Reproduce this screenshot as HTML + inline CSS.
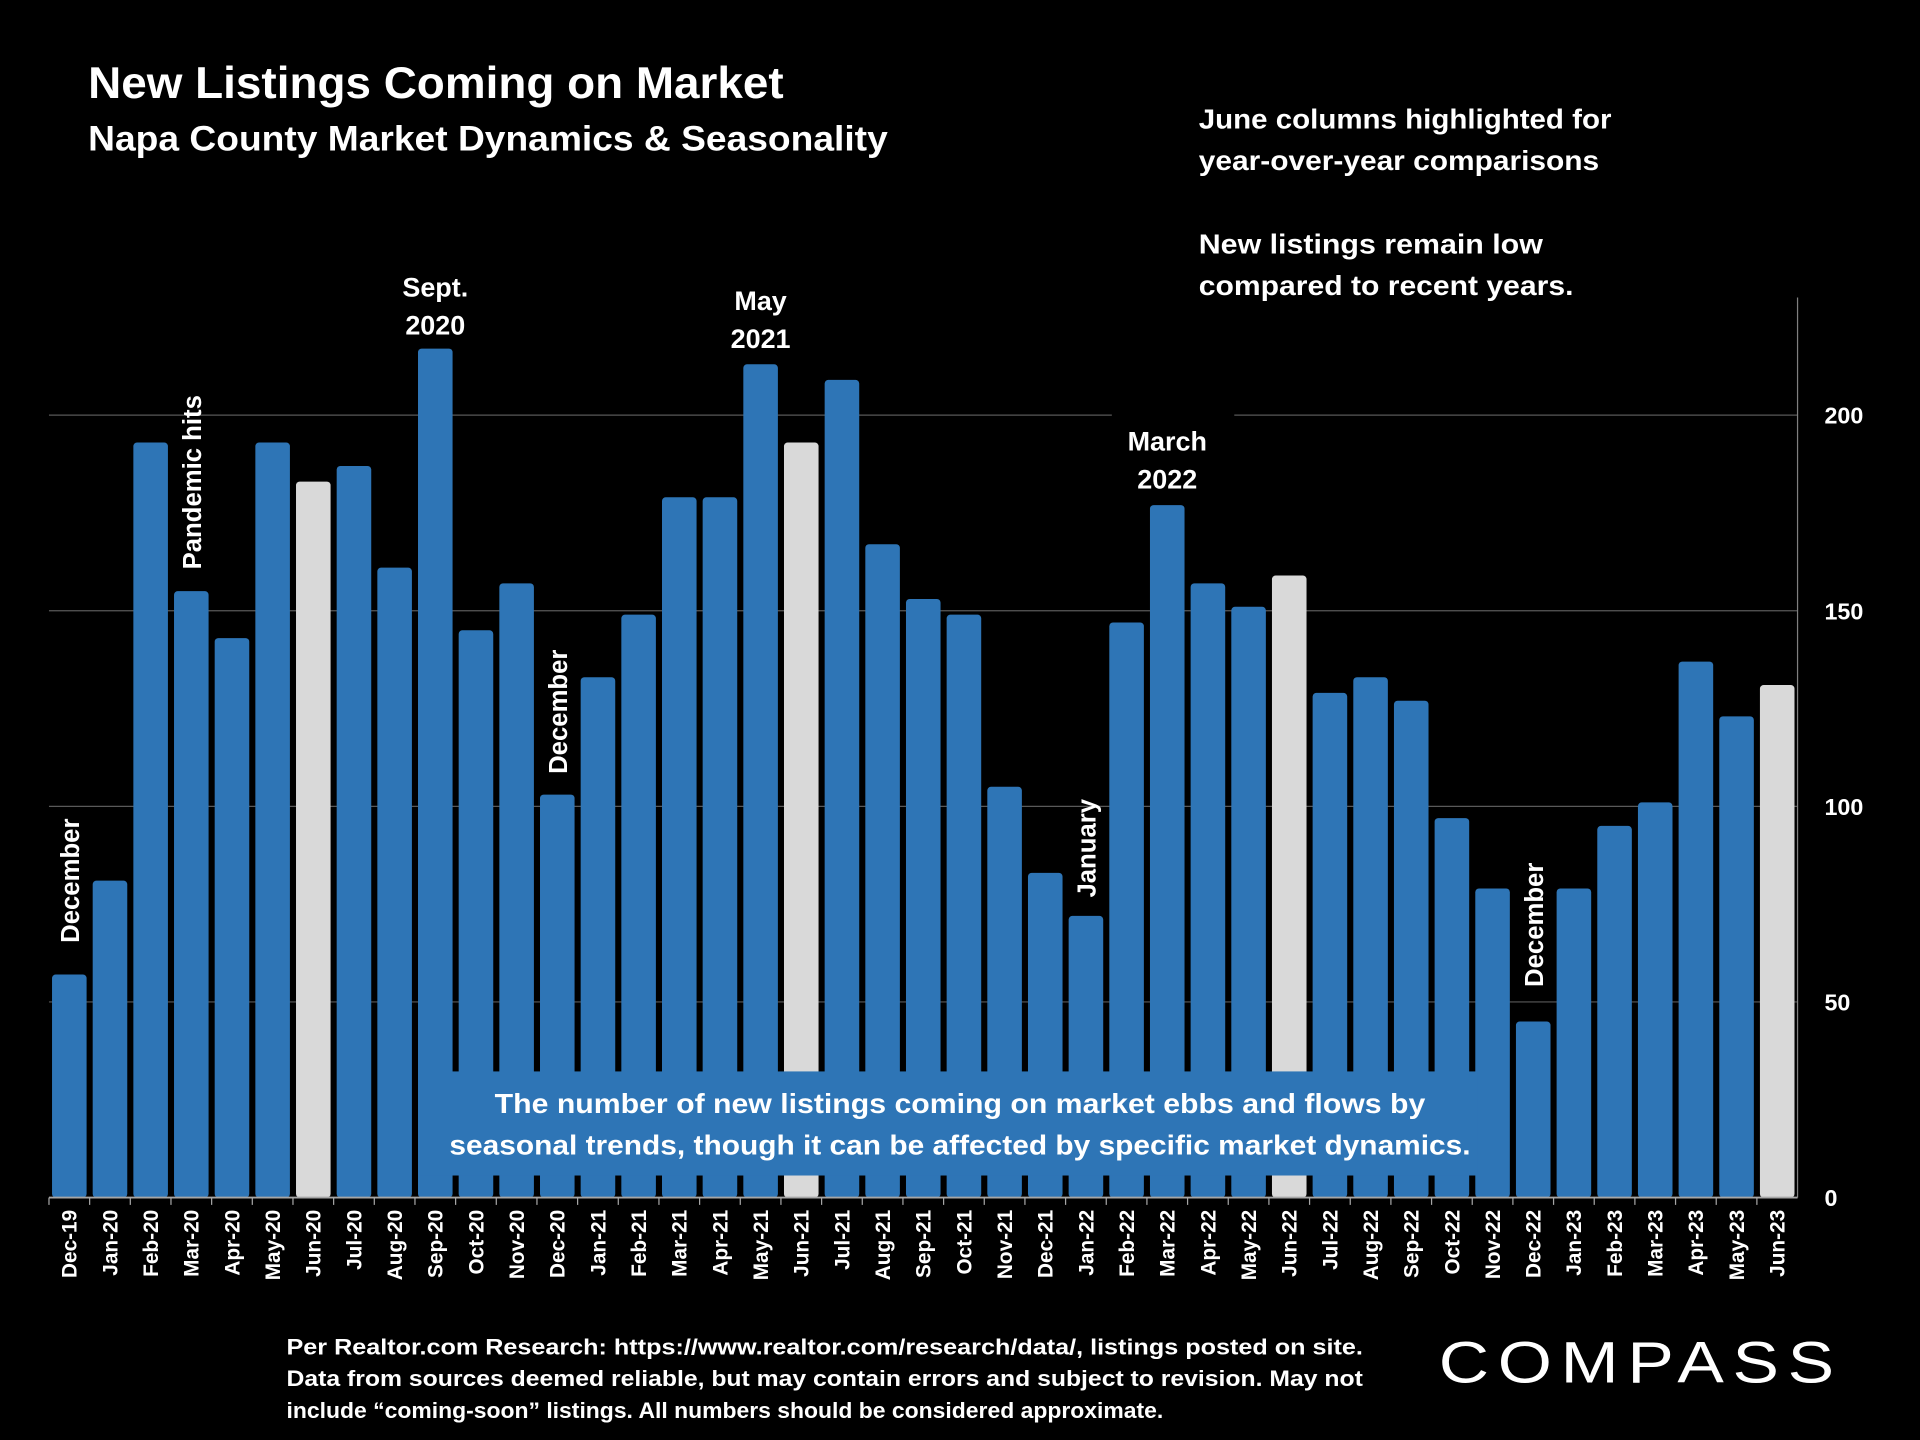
<!DOCTYPE html>
<html><head><meta charset="utf-8"><title>New Listings Coming on Market</title>
<style>html,body{margin:0;padding:0;background:#000;}svg{display:block;font-family:"Liberation Sans",sans-serif;font-weight:bold;}</style>
</head><body>
<svg id="chart" width="1920" height="1440" viewBox="0 0 1568 1176" xmlns="http://www.w3.org/2000/svg">
<rect width="1568" height="1176" fill="#000"/>
<text x="72" y="80" fill="#fff" font-size="36" textLength="568" lengthAdjust="spacingAndGlyphs">New Listings Coming on Market</text>
<text x="72" y="123" fill="#fff" font-size="29" textLength="653" lengthAdjust="spacingAndGlyphs">Napa County Market Dynamics &amp; Seasonality</text>
<g fill="#fff" font-size="23">
<text x="979" y="105" textLength="337" lengthAdjust="spacingAndGlyphs">June columns highlighted for</text>
<text x="979" y="139" textLength="327" lengthAdjust="spacingAndGlyphs">year-over-year comparisons</text>
<text x="979" y="207" textLength="281" lengthAdjust="spacingAndGlyphs">New listings remain low</text>
<text x="979" y="241" textLength="306" lengthAdjust="spacingAndGlyphs">compared to recent years.</text>
</g>
<g id="grid"></g>
<g id="bars"></g>
<g id="axes"></g>
<g id="ann" fill="#fff" font-size="22"></g>
<rect x="343" y="875" width="864" height="85" fill="#2e75b6"/>
<g fill="#fff" font-size="23" text-anchor="middle">
<text x="784" y="909" textLength="760" lengthAdjust="spacingAndGlyphs">The number of new listings coming on market ebbs and flows by</text>
<text x="784" y="943" textLength="834" lengthAdjust="spacingAndGlyphs">seasonal trends, though it can be affected by specific market dynamics.</text>
</g>
<g fill="#fff" font-size="18">
<text x="234" y="1106" textLength="879" lengthAdjust="spacingAndGlyphs">Per Realtor.com Research:  https://www.realtor.com/research/data/, listings posted on site.</text>
<text x="234" y="1132" textLength="879" lengthAdjust="spacingAndGlyphs">Data from sources deemed reliable, but may contain errors and subject to revision. May not</text>
<text x="234" y="1158" textLength="716" lengthAdjust="spacingAndGlyphs">include “coming-soon” listings. All numbers should be considered approximate.</text>
</g>
<text x="1340" y="1129" fill="#fff" font-size="48" font-weight="normal" text-anchor="middle" letter-spacing="6" textLength="330" lengthAdjust="spacingAndGlyphs">COMPASS</text>
<script>
const categories=["Dec-19","Jan-20","Feb-20","Mar-20","Apr-20","May-20","Jun-20","Jul-20","Aug-20","Sep-20","Oct-20","Nov-20","Dec-20","Jan-21","Feb-21","Mar-21","Apr-21","May-21","Jun-21","Jul-21","Aug-21","Sep-21","Oct-21","Nov-21","Dec-21","Jan-22","Feb-22","Mar-22","Apr-22","May-22","Jun-22","Jul-22","Aug-22","Sep-22","Oct-22","Nov-22","Dec-22","Jan-23","Feb-23","Mar-23","Apr-23","May-23","Jun-23"];
const listings=[57,81,193,155,143,193,183,187,161,217,145,157,103,133,149,179,179,213,193,209,167,153,149,105,83,72,147,177,157,151,159,129,133,127,97,79,45,79,95,101,137,123,131];
const yTicks=[0,50,100,150,200];
const NS="http://www.w3.org/2000/svg";
const x0=40,x1=1468,yBase=978,yPerUnit=(978-339)/200;
const step=(x1-x0)/categories.length;
const xc=i=>x0+step*(i+0.5);
const yv=v=>yBase-v*yPerUnit;
function mk(tag,attrs,parent){const e=document.createElementNS(NS,tag);for(const k in attrs)e.setAttribute(k,attrs[k]);parent.appendChild(e);return e;}
const grid=document.getElementById('grid'),bars=document.getElementById('bars'),axes=document.getElementById('axes'),ann=document.getElementById('ann');
yTicks.forEach(t=>{
 if(t>0){const l=mk('line',{x1:x0,x2:x1,y1:yv(t),y2:yv(t),stroke:'#595959','stroke-width':1},grid);
 
 }
 const tx=mk('text',{x:1490,y:yv(t)+7,fill:'#fff','font-size':19},axes);tx.textContent=t;
 
 
});
const ra=mk('line',{x1:x1,x2:x1,y1:243,y2:yBase,stroke:'#808080','stroke-width':1},axes);


const ba=mk('line',{x1:x0,x2:x1,y1:yBase,y2:yBase,stroke:'#a6a6a6','stroke-width':1.5},axes);


const bw=step*0.85;
categories.forEach((c,i)=>{
 const june=c.startsWith('Jun');
 const r=mk('rect',{x:xc(i)-bw/2,y:yv(listings[i]),width:bw,height:listings[i]*yPerUnit,rx:3,fill:june?'#d9d9d9':'#2e75b6'},bars);
 
 
 const tk=mk('line',{x1:x0+step*i,x2:x0+step*i,y1:yBase,y2:yBase+6,stroke:'#a6a6a6'},axes);
 
 
 const t=mk('text',{x:0,y:0,fill:'#fff','font-size':17,'text-anchor':'end',transform:`translate(${xc(i)+6},988) rotate(-90)`},axes);
 t.textContent=c;
 
 
});
const rot=[["December",0,770],["Pandemic hits",3,465],["December",12,632],["January",25,733],["December",36,806]];
rot.forEach(([s,i,yb])=>{const t=mk('text',{transform:`translate(${xc(i)+8},${yb}) rotate(-90)`,'font-size':21},ann);t.textContent=s;
 
 });
const bg=mk('rect',{x:908,y:330,width:100,height:20,fill:'#000'},ann);


const hz=[["Sept.","2020",9,234],["May","2021",17,245],["March","2022",27,360]];
hz.forEach(([a,b,i,y])=>{[a,b].forEach((s,k)=>{const t=mk('text',{x:xc(i),y:y+k*31+8,'text-anchor':'middle'},ann);t.textContent=s;
 
 });});
</script>
</svg>
</body></html>
